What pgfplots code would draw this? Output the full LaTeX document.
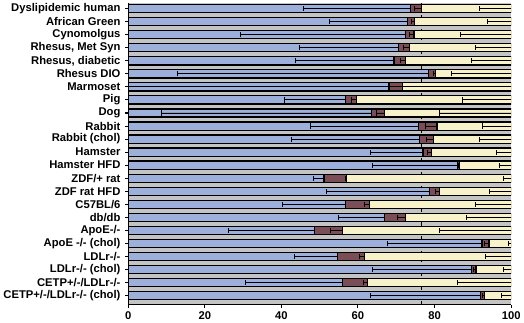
\documentclass[border=0pt]{standalone}
\usepackage{fontspec}
\setmainfont{Liberation Sans}
\usepackage{pgfplots}
\pgfplotsset{compat=1.18}
\definecolor{blueb}{HTML}{9DB0DC}
\definecolor{brownb}{HTML}{7B4E57}
\definecolor{yellowb}{HTML}{F7F2CA}
\definecolor{gapgray}{HTML}{C4C4C4}
\begin{document}
\begin{tikzpicture}
\begin{axis}[
  xbar stacked,
  scale only axis,
  width=375pt, height=295pt,
  xmin=0, xmax=100,
  ymin=-0.7, ymax=22.4,
  bar width=8pt,
  axis background/.style={fill=gapgray},
  axis x line*=bottom, axis y line*=left,
  axis line style={line width=1.2pt},
  xtick={0,20,40,60,80,100},
  ytick={0,...,22},
  yticklabels={{CETP+/-/LDLr-/- (chol)},{CETP+/-/LDLr-/-},{LDLr-/- (chol)},{LDLr-/-},{ApoE -/- (chol)},{ApoE-/-},{db/db},{C57BL/6},{ZDF rat HFD},{ZDF/+ rat},{Hamster HFD},{Hamster},{Rabbit (chol)},{Rabbit},{Dog},{Pig},{Marmoset},{Rhesus DIO},{Rhesus, diabetic},{Rhesus, Met Syn},{Cynomolgus},{African Green},{Dyslipidemic human}},
  tick label style={font=\bfseries\fontsize{11}{12}\selectfont},
  /pgf/number format/assume math mode=true,
  tick align=outside,
  major tick length=3pt,
  tick style={line width=1pt, black},
  yticklabel style={xshift=-1pt},
  error bars/error bar style={line width=0.9pt, black},
  error bars/error mark options={line width=0.9pt, black, mark size=2.5pt, rotate=90},
]
\addplot[fill=blueb, draw=black, line width=1.2pt, error bars/.cd, x dir=minus, x explicit] coordinates {
(73.7,22) +- (27.9,0)
(73.0,21) +- (20.4,0)
(72.5,20) +- (43.2,0)
(70.6,19) +- (26.0,0)
(69.4,18) +- (25.7,0)
(78.5,17) +- (65.5,0)
(68.1,16) +- (75.0,0)
(56.8,15) +- (16.1,0)
(63.6,14) +- (54.8,0)
(75.8,13) +- (28.1,0)
(76.1,12) +- (33.4,0)
(77.0,11) +- (13.8,0)
(85.9,10) +- (22.0,0)
(51.1,9) +- (2.6,0)
(78.6,8) +- (26.8,0)
(56.8,7) +- (16.6,0)
(66.9,6) +- (12.0,0)
(48.7,5) +- (22.5,0)
(92.4,4) +- (24.6,0)
(54.7,3) +- (11.3,0)
(89.7,2) +- (25.9,0)
(56.0,1) +- (25.4,0)
(91.9,0) +- (28.7,0)
};
\addplot[fill=brownb, draw=black, line width=1.2pt, error bars/.cd, x dir=minus, x explicit] coordinates {
(2.9,22) +- (1.8,0)
(1.8,21) +- (0.9,0)
(2.1,20) +- (1.2,0)
(2.8,19) +- (1.5,0)
(3.1,18) +- (1.3,0)
(1.8,17) +- (0.5,0)
(3.6,16) +- (3.6,0)
(2.8,15) +- (1.3,0)
(3.3,14) +- (2.0,0)
(4.8,13) +- (3.0,0)
(3.6,12) +- (1.8,0)
(2.2,11) +- (1.0,0)
(0.5,10) +- (0.2,0)
(5.8,9) +- (0.3,0)
(2.7,8) +- (1.0,0)
(6.2,7) +- (1.2,0)
(5.6,6) +- (2.2,0)
(7.2,5) +- (3.2,0)
(1.8,4) +- (1.1,0)
(6.9,3) +- (1.1,0)
(1.1,2) +- (0.6,0)
(6.5,1) +- (1.1,0)
(1.2,0) +- (0.5,0)
};
\addplot[fill=yellowb, draw=black, line width=1.2pt, error bars/.cd, x dir=minus, x explicit] coordinates {
(23.4,22) +- (8.3,0)
(25.2,21) +- (6.3,0)
(25.4,20) +- (13.2,0)
(26.6,19) +- (9.3,0)
(27.5,18) +- (10.5,0)
(19.7,17) +- (15.7,0)
(28.3,16) +- (28.3,0)
(40.4,15) +- (12.7,0)
(33.1,14) +- (18.8,0)
(19.4,13) +- (7.4,0)
(20.3,12) +- (8.3,0)
(20.8,11) +- (3.8,0)
(13.6,10) +- (3.2,0)
(43.1,9) +- (2.0,0)
(18.7,8) +- (5.6,0)
(37.0,7) +- (9.4,0)
(27.5,6) +- (11.8,0)
(44.1,5) +- (18.8,0)
(5.8,4) +- (0.7,0)
(38.4,3) +- (6.8,0)
(9.2,2) +- (2.0,0)
(37.5,1) +- (14.1,0)
(6.9,0) +- (2.5,0)
};
\draw[black, line width=1.4pt, dash pattern=on 4pt off 3pt] (axis cs:76.6,-0.7) -- (axis cs:76.6,22.4);
\end{axis}
\end{tikzpicture}
\end{document}
